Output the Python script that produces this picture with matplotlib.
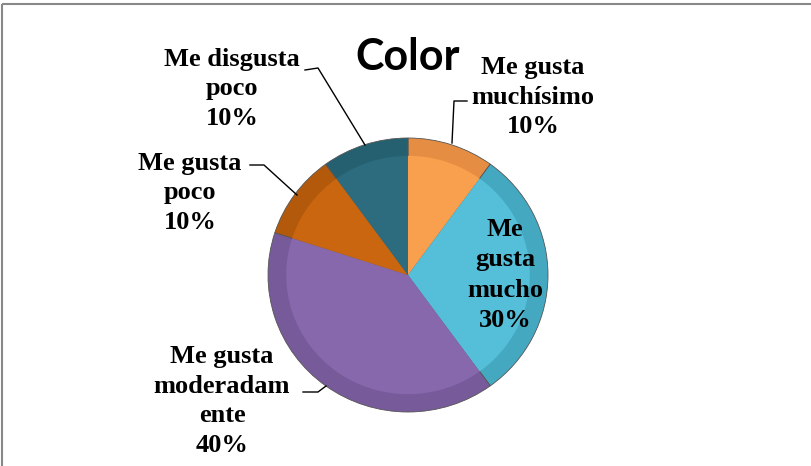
import matplotlib
matplotlib.use("Agg")
import matplotlib.pyplot as plt
from matplotlib.patches import Rectangle

categories = ["Me gusta muchísimo", "Me gusta mucho", "Me gusta moderadamente",
              "Me gusta poco", "Me disgusta poco"]
values = [10, 30, 40, 10, 10]
label_texts = ["Me gusta\nmuchísimo\n10%", "Me\ngusta\nmucho\n30%",
               "Me gusta\nmoderadam\nente\n40%", "Me gusta\npoco\n10%",
               "Me disgusta\npoco\n10%"]
colors = ["#F9A04E", "#55BFD9", "#8868AC", "#C9660F", "#2C6C7E"]
rim_colors = ["#E58D42", "#45A8C1", "#775A9A", "#B2590B", "#24606F"]
title = "Color"

W, H = 812, 466
fig = plt.figure(figsize=(W / 100, H / 100), dpi=100)

# pie axes (pixel box 268..548 x 138..412)
ax = fig.add_axes([268 / W, (H - 412) / H, 280 / W, 274 / H])
ax.pie(values, colors=rim_colors, startangle=90, counterclock=False, radius=1.0,
       wedgeprops=dict(linewidth=0.6, edgecolor="#555555"))
ax.pie(values, colors=colors, startangle=90, counterclock=False, radius=0.87,
       wedgeprops=dict(linewidth=0))
ax.set_xlim(-1, 1)
ax.set_ylim(-1, 1)
ax.set_aspect("auto")
ax.axis("off")

# overlay in pixel coordinates
ov = fig.add_axes([0, 0, 1, 1], facecolor="none")
ov.set_xlim(0, W)
ov.set_ylim(H, 0)
ov.axis("off")

ov.add_patch(Rectangle((2, 4), W + 10, H + 10, fill=False, edgecolor="#888888", linewidth=1.5))

ov.text(408, 57, title, ha="center", va="center", fontsize=31, fontweight="bold",
        family="Lato", color="black")

lab_pos = [(533, 97), (505, 275), (222, 401), (190, 193), (232, 89)]
spacings = [1.35, 1.42, 1.36, 1.35, 1.35]
for (x, y), t, ls in zip(lab_pos, label_texts, spacings):
    ov.text(x, y, t, family="Liberation Serif", fontweight="bold", fontsize=19,
            ha="center", va="center", linespacing=ls, color="black")

leaders = [
    [(452, 143), (454, 101), (467, 101)],
    [(305, 70), (318, 68), (365, 145)],
    [(250, 165), (264, 165), (297, 195)],
    [(303, 392), (318, 392), (326, 386)],
]
for pts in leaders:
    xs, ys = zip(*pts)
    ov.plot(xs, ys, color="black", linewidth=1)

fig.savefig("out.png", dpi=100)
